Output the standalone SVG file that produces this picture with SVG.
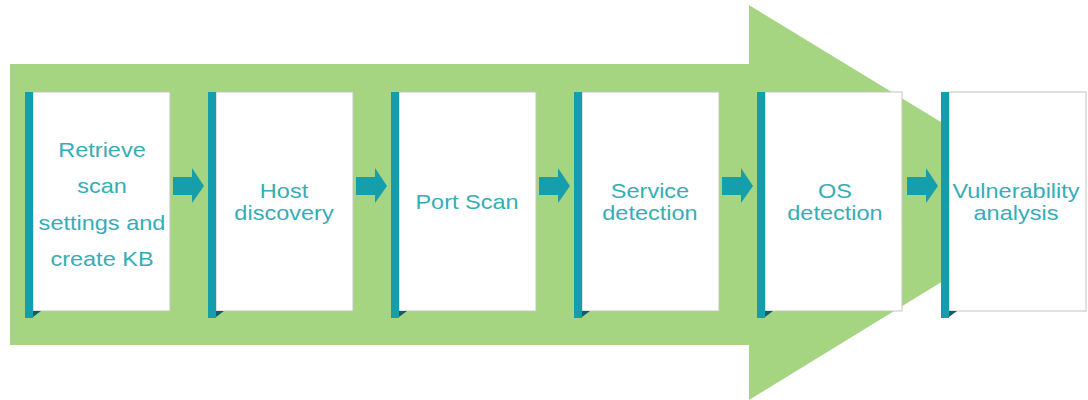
<svg xmlns="http://www.w3.org/2000/svg" width="1088" height="400" viewBox="0 0 1088 400">
<style>
.bg{fill:#a5d580}
.box{fill:#ffffff;stroke:#c4c4c4;stroke-width:1}
.bar{fill:#149daa}
.fold{fill:#0b5f66}
.arr{fill:#169fab}
.t{font-family:"Liberation Sans",Arial,sans-serif;font-size:21px;fill:#36adb6;text-anchor:middle}
</style>
<defs>
<g id="node">
<rect class="box" x="8" y="0" width="137" height="219"/>
<rect class="bar" x="0" y="0" width="8" height="226"/>
<polygon class="fold" points="8,219 16,219 8,225"/>
</g>
<polygon id="sa" points="0,-9 19,-9 19,-18 31,0 19,17 19,9 0,9"/>
</defs>
<polygon class="bg" points="10,64 749,64 749,5 1072,202 749,400 749,345 10,345"/>
<g id="connectors">
<use href="#sa" class="arr" x="173" y="186"/>
<use href="#sa" class="arr" x="356" y="186"/>
<use href="#sa" class="arr" x="539" y="186"/>
<use href="#sa" class="arr" x="722" y="186"/>
<use href="#sa" class="arr" x="907" y="186"/>
</g>
<g id="n1">
<use href="#node" x="25" y="92"/>
<text class="t" transform="translate(102,157) scale(1.12,1)">Retrieve</text>
<text class="t" transform="translate(102,193) scale(1.12,1)">scan</text>
<text class="t" transform="translate(102,230) scale(1.12,1)">settings and</text>
<text class="t" transform="translate(102,266) scale(1.12,1)">create KB</text>
</g>
<g id="n2">
<use href="#node" x="208" y="92"/>
<text class="t" transform="translate(284,198) scale(1.12,1)">Host</text>
<text class="t" transform="translate(284,220) scale(1.12,1)">discovery</text>
</g>
<g id="n3">
<use href="#node" x="391" y="92"/>
<text class="t" transform="translate(467,209) scale(1.12,1)">Port Scan</text>
</g>
<g id="n4">
<use href="#node" x="574" y="92"/>
<text class="t" transform="translate(650,198) scale(1.12,1)">Service</text>
<text class="t" transform="translate(650,220) scale(1.12,1)">detection</text>
</g>
<g id="n5">
<use href="#node" x="757" y="92"/>
<text class="t" transform="translate(835,198) scale(1.12,1)">OS</text>
<text class="t" transform="translate(835,220) scale(1.12,1)">detection</text>
</g>
<g id="n6">
<use href="#node" x="941" y="92"/>
<text class="t" transform="translate(1016,198) scale(1.12,1)">Vulnerability</text>
<text class="t" transform="translate(1016,220) scale(1.12,1)">analysis</text>
</g>
</svg>
